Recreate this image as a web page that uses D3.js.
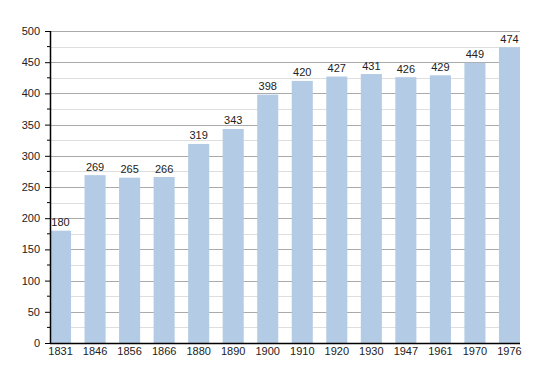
<!DOCTYPE html>
<html>
<head>
<meta charset="utf-8">
<script src="https://cdn.jsdelivr.net/npm/d3@7"></script>
<style>
  html, body { margin: 0; padding: 0; background: #fff; }
  svg text { font-family: "Liberation Sans", Arial, sans-serif; font-size: 11px; fill: #222; }
</style>
</head>
<body>
<svg id="chart" width="550" height="373"></svg>
<script>
// population by census year
const years = ['1831', '1846', '1856', '1866', '1880', '1890', '1900', '1910', '1920', '1930', '1947', '1961', '1970', '1976'];
const population = [180, 269, 265, 266, 319, 343, 398, 420, 427, 431, 426, 429, 449, 474];
const yTicks = [0, 50, 100, 150, 200, 250, 300, 350, 400, 450, 500];
const yMinor = [25, 75, 125, 175, 225, 275, 325, 375, 425, 475];

const svg = d3.select('#chart');
const mLeft = 50, mRight = 520, mTop = 31, mBottom = 343;

const x = d3.scaleBand().domain(years).range([mLeft, mRight]).paddingInner(0.39).paddingOuter(0);
const y = d3.scaleLinear().domain([0, 500]).range([mBottom, mTop]);

// grid
svg.append('g').selectAll('line').data(yMinor).join('line')
  .attr('x1', mLeft).attr('x2', mRight)
  .attr('y1', d => Math.round(y(d)) + 0.5).attr('y2', d => Math.round(y(d)) + 0.5)
  .attr('stroke', '#dedede');
svg.append('g').selectAll('line').data(yTicks.slice(1)).join('line')
  .attr('x1', mLeft).attr('x2', mRight)
  .attr('y1', d => Math.round(y(d)) + 0.5).attr('y2', d => Math.round(y(d)) + 0.5)
  .attr('stroke', '#aaaaaa');

// bars
svg.append('g').selectAll('rect').data(population).join('rect')
  .attr('x', (d, i) => x(years[i]))
  .attr('y', d => y(d))
  .attr('width', x.bandwidth())
  .attr('height', d => y(0) - y(d))
  .attr('fill', '#b3cbe5');

// value labels
svg.append('g').selectAll('text').data(population).join('text')
  .attr('x', (d, i) => x(years[i]) + x.bandwidth() / 2)
  .attr('y', d => y(d) - 4.5)
  .attr('text-anchor', 'middle')
  .text(d => d);

// y axis
const yAxis = svg.append('g').attr('transform', `translate(${mLeft},0)`)
  .call(d3.axisLeft(y).tickValues(yTicks).tickSize(5).tickPadding(5));
yAxis.select('.domain').remove();
yAxis.selectAll('.tick line').attr('stroke', '#000');
svg.append('g').selectAll('line').data(yMinor).join('line')
  .attr('x1', mLeft - 3).attr('x2', mLeft)
  .attr('y1', d => y(d)).attr('y2', d => y(d))
  .attr('stroke', '#000');
svg.append('line').attr('x1', mLeft + 0.5).attr('x2', mLeft + 0.5)
  .attr('y1', mTop).attr('y2', mBottom + 1).attr('stroke', '#000').attr('stroke-width', 1.5);

// x axis
const xAxis = svg.append('g').attr('transform', `translate(0,${mBottom})`)
  .call(d3.axisBottom(x).tickSize(0).tickPadding(4));
xAxis.select('.domain').remove();
svg.append('line').attr('x1', mLeft).attr('x2', mRight)
  .attr('y1', mBottom + 0.5).attr('y2', mBottom + 0.5).attr('stroke', '#000').attr('stroke-width', 1.5);
svg.selectAll('.tick text').attr('font-family', '"Liberation Sans", Arial, sans-serif').attr('font-size', 11).attr('fill', '#222');
</script>
</body>
</html>
